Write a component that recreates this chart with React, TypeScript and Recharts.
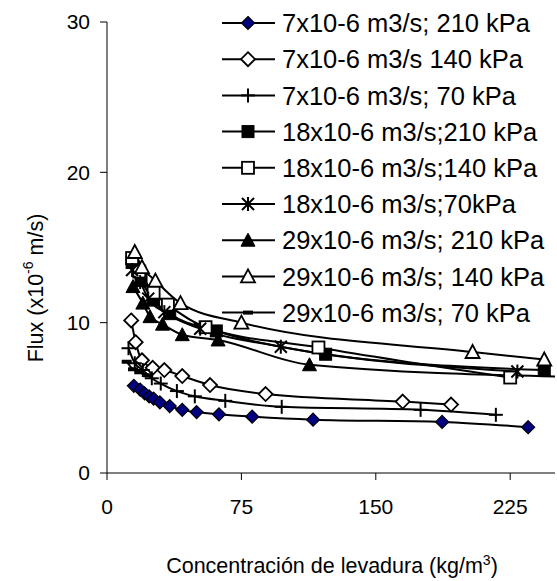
import React from 'react';
import { LineChart, Line, XAxis, YAxis, Legend } from 'recharts';

const FONT = '"Liberation Sans", Arial, Helvetica, sans-serif';

// concentración (kg/m3) and flux (x10-6 m/s) per series
const s1x = [15, 18.5, 21, 23.5, 26, 29.5, 35, 42, 50, 62.5, 81, 115, 187, 235];
const s1y = [5.8, 5.55, 5.3, 5.1, 4.95, 4.7, 4.45, 4.2, 4.05, 3.9, 3.75, 3.55, 3.4, 3.05];

const s2x = [13.5, 16, 19.5, 25.5, 32, 42, 57.5, 88.5, 165, 192];
const s2y = [10.15, 8.7, 7.5, 7.0, 6.85, 6.45, 5.85, 5.25, 4.75, 4.55];

const s3x = [12, 15.5, 20, 25, 30, 39, 49, 66, 97.5, 175, 217];
const s3y = [8.3, 7.3, 6.85, 6.3, 5.95, 5.45, 5.1, 4.8, 4.4, 4.2, 3.87];

const s4x = [14, 19, 26, 35, 61, 122, 244];
const s4y = [14.0, 12.8, 11.5, 10.6, 9.45, 7.9, 6.85];

const s5x = [14, 18, 26, 34, 55, 118, 225];
const s5y = [14.3, 13.4, 12.0, 11.2, 9.7, 8.35, 6.35];

const s6x = [14, 18.5, 23, 32, 52, 97, 229];
const s6y = [13.5, 12.7, 11.6, 10.7, 9.6, 8.4, 6.75];

const s7x = [14.5, 20, 24, 31, 42, 62, 113, 256];
const s7y = [12.4, 11.3, 10.4, 9.9, 9.2, 8.85, 7.2, 6.4];

const s8x = [15.5, 19.5, 27, 41, 75, 204, 244];
const s8y = [14.7, 13.7, 12.8, 11.3, 10.0, 8.05, 7.55];

const s9x = [11, 14.5, 18, 23];
const s9y = [7.4, 6.9, 6.7, 6.5];

const names = [
  '7x10-6 m3/s; 210 kPa',
  '7x10-6 m3/s 140 kPa',
  '7x10-6 m3/s; 70 kPa',
  '18x10-6 m3/s;210 kPa',
  '18x10-6 m3/s;140 kPa',
  '18x10-6 m3/s;70kPa',
  '29x10-6 m3/s; 210 kPa',
  '29x10-6 m3/s; 140 kPa',
  '29x10-6 m3/s; 70 kPa',
];

const kinds = [
  'diamondFilled',
  'diamondOpen',
  'plus',
  'squareFilled',
  'squareOpen',
  'asterisk',
  'triangleFilled',
  'triangleOpen',
  'dash',
];

const xTicks = [0, 75, 150, 225];
const yTicks = [0, 10, 20, 30];

const zip = (xs: number[], ys: number[]) => xs.map((x, i) => ({ x, y: ys[i] }));

const series = [
  zip(s1x, s1y),
  zip(s2x, s2y),
  zip(s3x, s3y),
  zip(s4x, s4y),
  zip(s5x, s5y),
  zip(s6x, s6y),
  zip(s7x, s7y),
  zip(s8x, s8y),
  zip(s9x, s9y),
];

function Marker({ kind, cx, cy }: { kind: string; cx: number; cy: number }) {
  if (cx == null || cy == null) return null;
  switch (kind) {
    case 'diamondFilled': {
      const r = 6.5;
      return (
        <polygon
          points={`${cx},${cy - r} ${cx + r},${cy} ${cx},${cy + r} ${cx - r},${cy}`}
          fill="#000080"
          stroke="#000"
          strokeWidth={1.2}
        />
      );
    }
    case 'diamondOpen': {
      const r = 7;
      return (
        <polygon
          points={`${cx},${cy - r} ${cx + r},${cy} ${cx},${cy + r} ${cx - r},${cy}`}
          fill="#fff"
          stroke="#000"
          strokeWidth={1.8}
        />
      );
    }
    case 'plus':
      return (
        <g stroke="#000" strokeWidth={2}>
          <line x1={cx - 7} y1={cy} x2={cx + 7} y2={cy} />
          <line x1={cx} y1={cy - 7} x2={cx} y2={cy + 7} />
        </g>
      );
    case 'squareFilled':
      return <rect x={cx - 6} y={cy - 6} width={12} height={12} fill="#000" stroke="#000" />;
    case 'squareOpen':
      return (
        <rect x={cx - 6} y={cy - 6} width={12} height={12} fill="#fff" stroke="#000" strokeWidth={1.8} />
      );
    case 'asterisk':
      return (
        <g stroke="#000" strokeWidth={2}>
          <line x1={cx - 6} y1={cy - 6} x2={cx + 6} y2={cy + 6} />
          <line x1={cx - 6} y1={cy + 6} x2={cx + 6} y2={cy - 6} />
          <line x1={cx} y1={cy - 7} x2={cx} y2={cy + 7} />
        </g>
      );
    case 'triangleFilled':
      return (
        <polygon
          points={`${cx},${cy - 7} ${cx + 7},${cy + 6} ${cx - 7},${cy + 6}`}
          fill="#000"
          stroke="#000"
        />
      );
    case 'triangleOpen':
      return (
        <polygon
          points={`${cx},${cy - 7} ${cx + 7},${cy + 6} ${cx - 7},${cy + 6}`}
          fill="#fff"
          stroke="#000"
          strokeWidth={1.8}
        />
      );
    case 'dash':
      return <rect x={cx - 5} y={cy - 2} width={10} height={4} fill="#000" />;
    default:
      return null;
  }
}

function LegendBox() {
  return (
    <svg width={557} height={340} style={{ display: 'block' }}>
      {names.map((name, i) => {
        const y = 23 + i * 36.2;
        return (
          <g key={name}>
            <line x1={222} y1={y} x2={275} y2={y} stroke="#000" strokeWidth={2} />
            <Marker kind={kinds[i]} cx={248} cy={y} />
            <text
              x={282}
              y={y}
              dy="0.36em"
              fontSize={25.5}
              fontFamily={FONT}
              fill="#000"
            >
              {name}
            </text>
          </g>
        );
      })}
    </svg>
  );
}

export default function App() {
  return (
    <div style={{ position: 'absolute', left: 0, top: 0, background: '#fff' }}>
      <LineChart width={557} height={581} margin={{ top: 22, right: 2, left: 0, bottom: 0 }}>
        <XAxis
          type="number"
          dataKey="x"
          domain={[0, 250]}
          ticks={xTicks}
          allowDataOverflow
          height={108}
          tickSize={7}
          tickMargin={19}
          axisLine={{ stroke: '#000' }}
          tickLine={{ stroke: '#000' }}
          tick={{ fill: '#000', fontSize: 21, fontFamily: FONT }}
          label={{
            content: () => (
              <text x={332} y={573} textAnchor="middle" fontSize={21.5} fontFamily={FONT} fill="#000">
                Concentración de levadura (kg/m
                <tspan dy={-8} fontSize={14}>3</tspan>
                <tspan dy={8}>)</tspan>
              </text>
            ),
          }}
        />
        <YAxis
          type="number"
          dataKey="y"
          domain={[0, 30]}
          ticks={yTicks}
          allowDataOverflow
          width={107}
          tickSize={7}
          tickMargin={10}
          axisLine={{ stroke: '#000' }}
          tickLine={{ stroke: '#000' }}
          tick={{ fill: '#000', fontSize: 21, fontFamily: FONT }}
          label={{
            content: () => (
              <text
                x={36}
                y={288}
                transform="rotate(-90, 36, 288)"
                textAnchor="middle"
                dominantBaseline="central"
                fontSize={21.5}
                fontFamily={FONT}
                fill="#000"
              >
                Flux (x10
                <tspan dy={-8} fontSize={14}>-6</tspan>
                <tspan dy={8}> m/s)</tspan>
              </text>
            ),
          }}
        />
        <Legend
          layout="horizontal"
          verticalAlign="middle"
          align="center"
          content={() => <LegendBox />}
          wrapperStyle={{ position: 'absolute', left: 0, top: 0, width: 557, height: 340 }}
        />
        {series.map((data, i) => (
          <Line
            key={names[i]}
            name={names[i]}
            data={data}
            dataKey="y"
            type="monotone"
            stroke="#000"
            strokeWidth={2}
            activeDot={false}
            isAnimationActive={false}
            dot={(p: any) => (
              <Marker key={`${i}-${p.index}`} kind={kinds[i]} cx={p.cx} cy={p.cy} />
            )}
          />
        ))}
      </LineChart>
    </div>
  );
}
